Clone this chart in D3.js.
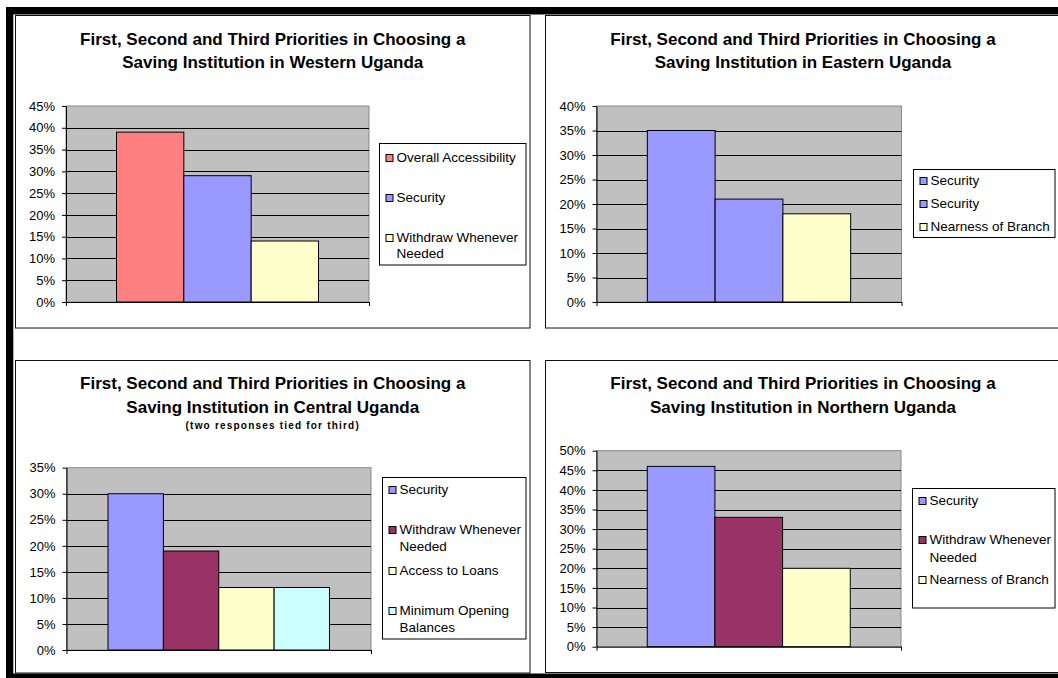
<!DOCTYPE html>
<html>
<head>
<meta charset="utf-8">
<script src="https://cdn.jsdelivr.net/npm/d3@7"></script>
<style>
  html, body { margin: 0; padding: 0; background: #fff; }
  svg { display: block; }
</style>
</head>
<body>
<svg id="chart" width="1058" height="678"></svg>
<script>
// ---------------- DATA ----------------
const titleLine1 = "First, Second and Third Priorities in Choosing a";

const westTitle2 = "Saving Institution in Western Uganda";
const westCategories = ["Overall Accessibility", "Security", "Withdraw Whenever Needed"];
const westValues = [0.39, 0.29, 0.14];
const westTicks = [0, 0.05, 0.10, 0.15, 0.20, 0.25, 0.30, 0.35, 0.40, 0.45];

const eastTitle2 = "Saving Institution in Eastern Uganda";
const eastCategories = ["Security", "Security", "Nearness of Branch"];
const eastValues = [0.35, 0.21, 0.18];
const eastTicks = [0, 0.05, 0.10, 0.15, 0.20, 0.25, 0.30, 0.35, 0.40];

const centralTitle2 = "Saving Institution in Central Uganda";
const centralSubtitle = "(two responses tied for third)";
const centralCategories = ["Security", "Withdraw Whenever Needed", "Access to Loans", "Minimum Opening Balances"];
const centralValues = [0.30, 0.19, 0.12, 0.12];
const centralTicks = [0, 0.05, 0.10, 0.15, 0.20, 0.25, 0.30, 0.35];

const northTitle2 = "Saving Institution in Northern Uganda";
const northCategories = ["Security", "Withdraw Whenever Needed", "Nearness of Branch"];
const northValues = [0.46, 0.33, 0.20];
const northTicks = [0, 0.05, 0.10, 0.15, 0.20, 0.25, 0.30, 0.35, 0.40, 0.45, 0.50];

// ---------------- STYLE / LAYOUT ----------------
const FONT = '"Liberation Sans", Arial, Helvetica, sans-serif';
const westColors = ["#FF8080", "#9999FF", "#FFFFCC"];
const eastColors = ["#9999FF", "#9999FF", "#FFFFCC"];
const centralColors = ["#9999FF", "#993366", "#FFFFCC", "#CCFFFF"];
const northColors = ["#9999FF", "#993366", "#FFFFCC"];

const charts = [
  { title2: westTitle2, cats: westCategories, vals: westValues, ticks: westTicks, colors: westColors,
    box: [15.5, 15.5, 514.5, 312.5], titleY: [45, 67.7],
    plot: [66, 106, 303, 196],
    legend: [379.5, 143.5, 146.5, 121.5], legFirst: 157, legStep: 40, lh: 16 },
  { title2: eastTitle2, cats: eastCategories, vals: eastValues, ticks: eastTicks, colors: eastColors,
    box: [545.5, 15.5, 515, 312.5], titleY: [45, 67.7],
    plot: [596.5, 106, 305, 196],
    legend: [913.5, 169.5, 141.5, 68], legFirst: 180, legStep: 23, lh: 16 },
  { title2: centralTitle2, subtitle: centralSubtitle, cats: centralCategories, vals: centralValues, ticks: centralTicks, colors: centralColors,
    box: [15.5, 360.5, 514.5, 312.5], titleY: [389.3, 412.7, 429.3],
    plot: [66.5, 467.7, 304.5, 182.3],
    legend: [382.5, 477.5, 143.5, 161.5], legFirst: 489, legStep: 40.5, lh: 16.5 },
  { title2: northTitle2, cats: northCategories, vals: northValues, ticks: northTicks, colors: northColors,
    box: [545.5, 360.5, 515, 312], titleY: [389.3, 412.7],
    plot: [596.5, 450.7, 304.5, 196],
    legend: [912.5, 488.5, 142.5, 119.5], legFirst: 500, legStep: 39.6, lh: 18 }
];

const svg = d3.select("#chart");

// outer black frame bands
svg.append("rect").attr("x", 6).attr("y", 7).attr("width", 1052).attr("height", 7.5).attr("fill", "#000");
svg.append("rect").attr("x", 6).attr("y", 7).attr("width", 7.3).attr("height", 671).attr("fill", "#000");
svg.append("rect").attr("x", 6).attr("y", 673.5).attr("width", 1052).attr("height", 4.5).attr("fill", "#000");

function drawChart(cfg) {
  const g = svg.append("g");
  const [bx, by, bw, bh] = cfg.box;
  g.append("rect").attr("x", bx).attr("y", by).attr("width", bw).attr("height", bh)
    .attr("fill", "#fff").attr("stroke", "#111").attr("stroke-width", 1);

  const cx = bx + bw / 2;
  g.append("text").attr("x", cx).attr("y", cfg.titleY[0]).attr("text-anchor", "middle")
    .attr("font-family", FONT).attr("font-weight", "bold").attr("font-size", 17).text(titleLine1);
  g.append("text").attr("x", cx).attr("y", cfg.titleY[1]).attr("text-anchor", "middle")
    .attr("font-family", FONT).attr("font-weight", "bold").attr("font-size", 17).text(cfg.title2);
  if (cfg.subtitle) {
    g.append("text").attr("x", cx).attr("y", cfg.titleY[2]).attr("text-anchor", "middle")
      .attr("font-family", FONT).attr("font-weight", "bold").attr("font-size", 10)
      .attr("letter-spacing", 1.2).text(cfg.subtitle);
  }

  const [px, py, pw, ph] = cfg.plot;
  const n = cfg.vals.length;
  const x = d3.scaleBand().domain(d3.range(n)).range([px, px + pw]).paddingInner(0).paddingOuter(0.75);
  const y = d3.scaleLinear().domain([0, d3.max(cfg.ticks)]).range([py + ph, py]);

  // plot area
  g.append("rect").attr("x", px).attr("y", py).attr("width", pw).attr("height", ph)
    .attr("fill", "#C0C0C0").attr("stroke", "#888").attr("stroke-width", 1);

  // gridlines
  g.append("g").selectAll("line").data(cfg.ticks.slice(1, -1)).join("line")
    .attr("x1", px).attr("x2", px + pw)
    .attr("y1", d => Math.round(y(d)) + 0.5).attr("y2", d => Math.round(y(d)) + 0.5)
    .attr("stroke", "#000").attr("stroke-width", 1);

  // bars
  g.append("g").selectAll("rect").data(cfg.vals).join("rect")
    .attr("x", (d, i) => x(i)).attr("width", x.bandwidth())
    .attr("y", d => y(d)).attr("height", d => y(0) - y(d))
    .attr("fill", (d, i) => cfg.colors[i]).attr("stroke", "#000").attr("stroke-width", 1);

  // y axis
  const yAxis = g.append("g").attr("transform", `translate(${px},0)`)
    .call(d3.axisLeft(y).tickValues(cfg.ticks).tickFormat(d3.format(".0%"))
      .tickSize(4).tickSizeOuter(0).tickPadding(7));
  yAxis.selectAll("text").attr("font-family", FONT).attr("font-size", 13).attr("fill", "#000");
  yAxis.selectAll("line,path").attr("stroke", "#000");

  // x axis (category axis with boundary ticks)
  const xEdge = d3.scaleLinear().domain([0, 1]).range([px, px + pw]);
  const xAxis = g.append("g").attr("transform", `translate(0,${y(0)})`)
    .call(d3.axisBottom(xEdge).tickValues([0, 1]).tickFormat("").tickSize(4).tickSizeOuter(0));
  xAxis.selectAll("line,path").attr("stroke", "#000");

  // legend
  const [lx, ly, lw, lhgt] = cfg.legend;
  g.append("rect").attr("x", lx).attr("y", ly).attr("width", lw).attr("height", lhgt)
    .attr("fill", "#fff").attr("stroke", "#000").attr("stroke-width", 1);
  const textX = lx + 17;
  const maxW = lx + lw - textX - 1;
  const items = g.append("g").selectAll("g").data(cfg.cats).join("g");
  items.each(function (name, i) {
    const it = d3.select(this);
    const cy = cfg.legFirst + i * cfg.legStep;
    it.append("rect").attr("x", lx + 6.5).attr("y", Math.round(cy - 3.5) + 0.5)
      .attr("width", 7).attr("height", 7)
      .attr("fill", cfg.colors[i]).attr("stroke", "#000").attr("stroke-width", 1);
    const t = it.append("text").attr("font-family", FONT).attr("font-size", 13.5).attr("fill", "#000");
    // word-wrap to legend width
    const words = name.split(" ");
    let lines = [], cur = [];
    const probe = t.append("tspan");
    words.forEach(w => {
      const trial = cur.concat([w]).join(" ");
      probe.text(trial);
      if (probe.node().getComputedTextLength() > maxW && cur.length) {
        lines.push(cur.join(" "));
        cur = [w];
      } else {
        cur.push(w);
      }
    });
    lines.push(cur.join(" "));
    probe.remove();
    t.selectAll("tspan").data(lines).join("tspan")
      .attr("x", textX).attr("y", (d, j) => cy + j * cfg.lh).attr("dy", "0.35em").text(d => d);
  });
}

charts.forEach(drawChart);
</script>
</body>
</html>
